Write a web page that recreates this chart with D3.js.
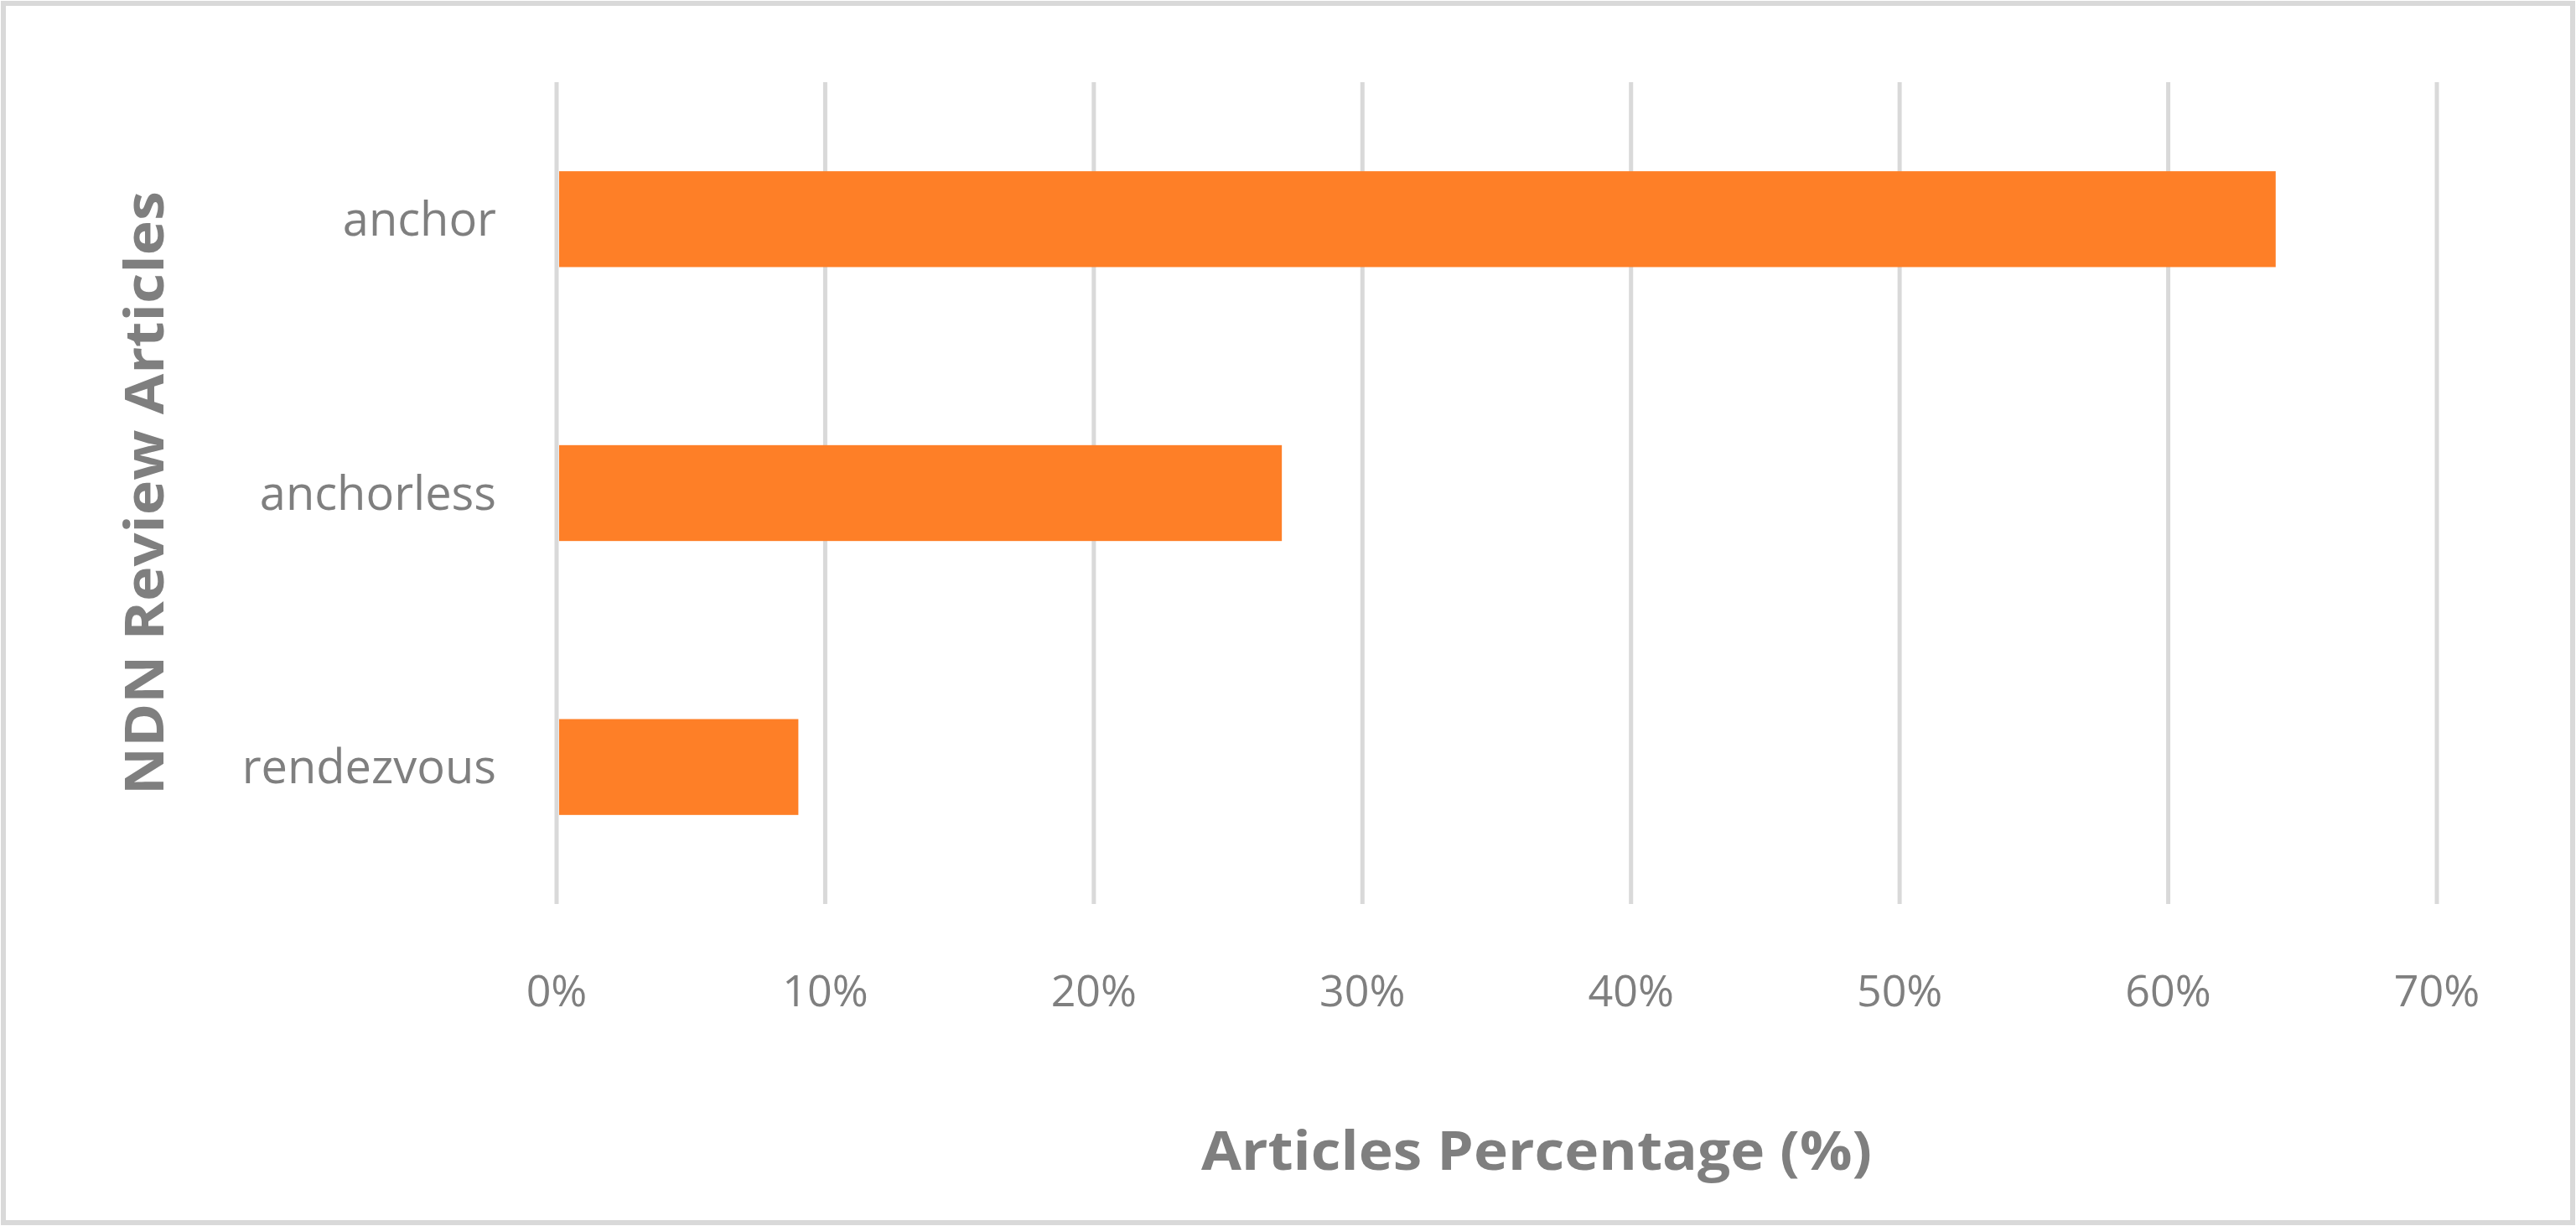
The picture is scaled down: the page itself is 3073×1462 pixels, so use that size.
<!DOCTYPE html>
<html>
<head>
<meta charset="utf-8">
<script src="https://cdn.jsdelivr.net/npm/d3@7"></script>
<style>
  body { margin: 0; background: white; }
  text { font-family: "Open Sans", "Liberation Sans", sans-serif; fill: #7f7f7f; }
</style>
</head>
<body>
<div id="chart"></div>
<script>
const categories = ["anchor", "anchorless", "rendezvous"];
const values = [64, 27, 9];
const ticks = [0, 10, 20, 30, 40, 50, 60, 70];

const W = 3073, H = 1462;
const svg = d3.select("#chart").append("svg").attr("width", W).attr("height", H);

svg.append("rect")
    .attr("x", 4).attr("y", 4).attr("width", W - 8).attr("height", H - 8)
    .attr("fill", "white").attr("stroke", "#d9d9d9").attr("stroke-width", 6);

const plotLeft = 664, plotRight = 2907, plotTop = 98, plotBottom = 1078;

const x = d3.scaleLinear().domain([0, 70]).range([plotLeft, plotRight]);
const y = d3.scaleBand().domain(categories).range([plotTop, plotBottom]).paddingInner(0.65).paddingOuter(0.325);

// gridlines
svg.append("g")
    .selectAll("line")
    .data(ticks)
    .enter().append("line")
    .attr("x1", d => x(d)).attr("x2", d => x(d))
    .attr("y1", plotTop).attr("y2", plotBottom)
    .attr("stroke", "#d9d9d9").attr("stroke-width", 5);

// bars
svg.append("g")
    .selectAll("rect")
    .data(values)
    .enter().append("rect")
    .attr("x", x(0) + 3)
    .attr("y", (d, i) => y(categories[i]))
    .attr("width", d => x(d) - x(0) - 3)
    .attr("height", y.bandwidth())
    .attr("fill", "#fe7f27");

// x tick labels
svg.append("g")
    .selectAll("text")
    .data(ticks)
    .enter().append("text")
    .attr("x", d => x(d))
    .attr("y", 1200)
    .attr("text-anchor", "middle")
    .attr("font-size", "52px")
    .text(d => d + "%");

// category labels
svg.append("g")
    .selectAll("text")
    .data(categories)
    .enter().append("text")
    .attr("x", 592)
    .attr("y", d => y(d) + y.bandwidth() / 2)
    .attr("dy", "0.35em")
    .attr("text-anchor", "end")
    .attr("font-size", "56px")
    .text(d => d);

svg.append("text")
    .attr("x", 1833).attr("y", 1395)
    .attr("text-anchor", "middle")
    .attr("font-size", "64px").attr("font-weight", "bold")
    .attr("textLength", 800).attr("lengthAdjust", "spacingAndGlyphs")
    .text("Articles Percentage (%)");

svg.append("text")
    .attr("transform", "translate(195,588) rotate(-90)")
    .attr("text-anchor", "middle")
    .attr("font-size", "64px").attr("font-weight", "bold")
    .attr("textLength", 720).attr("lengthAdjust", "spacingAndGlyphs")
    .text("NDN Review Articles");
</script>
</body>
</html>
